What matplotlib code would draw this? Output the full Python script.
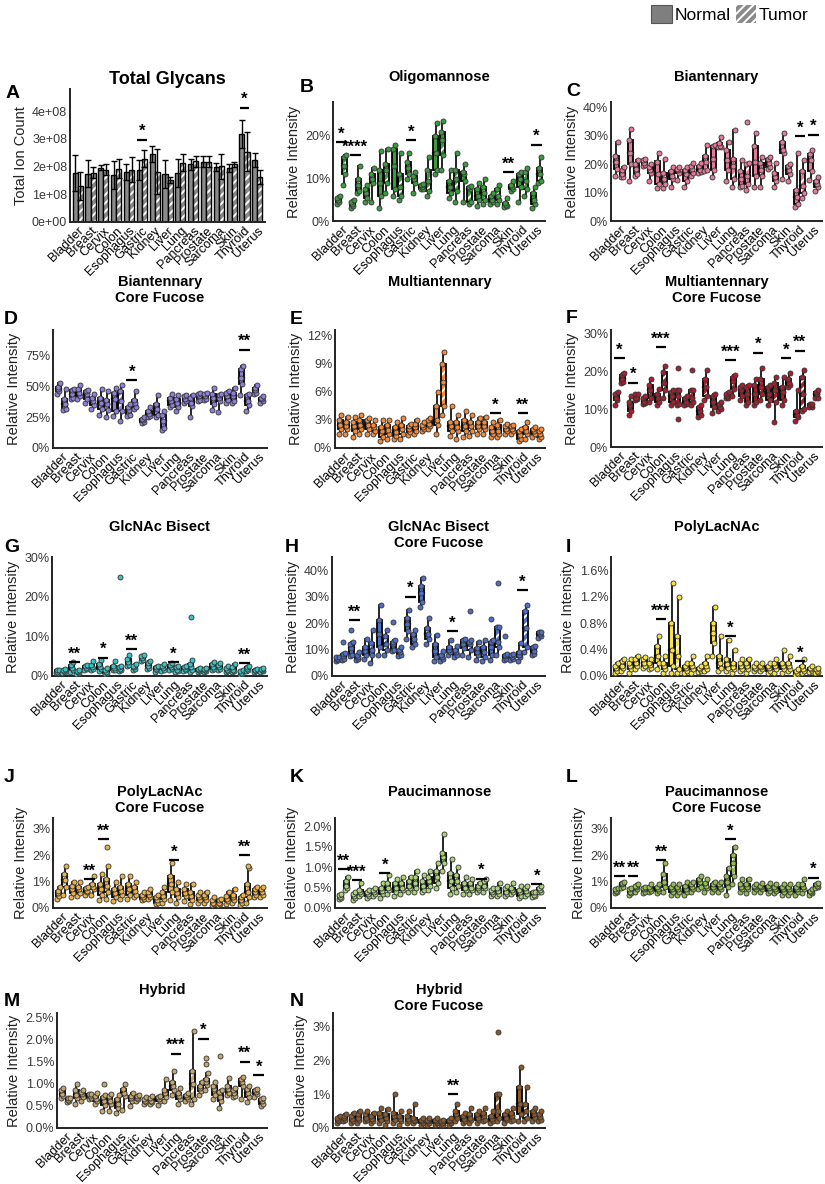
import matplotlib
matplotlib.use('Agg')
import matplotlib.pyplot as plt
from matplotlib.patches import Rectangle, Patch

plt.rcParams['font.family'] = ['Liberation Sans', 'DejaVu Sans']
plt.rcParams['hatch.linewidth'] = 1.4

TISSUES = ['Bladder', 'Breast', 'Cervix', 'Colon', 'Esophagus', 'Gastric', 'Kidney',
           'Liver', 'Lung', 'Pancreas', 'Prostate', 'Sarcoma', 'Skin', 'Thyroid', 'Uterus']

# ---------------- Panel A: total ion count (x 1e8) ----------------
A_NORMAL_MEAN = [1.77, 1.75, 1.96, 1.69, 1.81, 1.87, 2.45, 1.72, 1.77, 2.08, 2.17, 1.99, 1.96, 3.17, 2.25]
A_NORMAL_SD = [0.65, 0.50, 0.10, 0.50, 0.30, 0.35, 0.30, 0.50, 0.50, 0.20, 0.20, 0.15, 0.15, 0.50, 0.25]
A_TUMOR_MEAN = [1.29, 1.77, 1.89, 1.93, 1.89, 2.29, 1.82, 1.51, 2.14, 2.20, 2.17, 2.01, 2.08, 2.54, 1.63]
A_TUMOR_SD = [0.50, 0.20, 0.20, 0.35, 0.45, 0.30, 0.80, 0.10, 0.30, 0.20, 0.20, 0.45, 0.10, 0.70, 0.25]
A_SIG = [(5, '*', 2.95), (13, '*', 4.1)]

# ---------------- Box panels: [low whisker, Q1, median, Q3, high whisker] in % ----------------
OLIGO_N = [[4, 4.5, 5, 5.5, 6], [3, 3.5, 4, 4.5, 5], [4.5, 5.5, 6.5, 7.5, 8.5], [3, 6, 9, 12, 16.5],
           [6, 7.5, 13, 17, 18], [10, 11, 12.5, 14, 16], [7.5, 7.6, 8, 8.5, 8.6], [11, 12, 16, 20, 23],
           [5.5, 6.5, 8, 9.5, 12], [4.5, 9.5, 11, 11.5, 13.5], [3.5, 5, 6, 7.5, 9], [4, 4.5, 5, 6, 6.5],
           [3.3, 3.5, 3.8, 4.2, 5.5], [4.5, 8, 10, 11, 11.5], [3, 4, 5, 6.5, 8]]
OLIGO_T = [[8.5, 11, 13, 15, 15.5], [6.5, 7, 8.5, 10, 13], [4.5, 9, 10, 11, 12.5], [6.5, 9, 12, 13.5, 17],
           [5, 6, 8, 11, 16], [6.5, 9, 10, 10.5, 11.5], [6, 7, 9.5, 12, 15], [12, 15.5, 19, 21, 23.5],
           [4.5, 7, 10, 12, 16], [4, 4.5, 7.5, 8, 8.2], [4, 5, 6.5, 8, 10], [4, 5, 6, 7.5, 8.5],
           [7, 7.5, 8, 8.5, 9.5], [6, 7.5, 9.5, 11.5, 12.5], [9, 9.5, 11, 12.5, 15]]
OLIGO_OUT = []
OLIGO_SIG = [(0, '*', 18.5), (1, '****', 15.5), (5, '*', 19), (12, '**', 11.5), (14, '*', 18)]

BIANT_N = [[16, 18.5, 21, 23, 28], [14, 20, 24, 28.5, 32.5], [19.5, 19.7, 20.5, 21.5, 22], [11.5, 13, 16.5, 21, 24],
           [12, 15, 16, 17.5, 19], [12, 14, 16.5, 18, 19], [17, 17.2, 18, 19.5, 20.5], [15.5, 18, 22, 26.5, 27],
           [14, 18, 21.5, 25, 28], [12, 12.5, 15, 17.5, 21.5], [12, 16, 21, 26.5, 31], [18.5, 19, 20.5, 22, 22.5],
           [15, 24, 25, 28, 31], [5, 6, 8.5, 11, 24], [14.5, 17.5, 21.5, 23.5, 25]]
BIANT_T = [[15.5, 15.6, 16.5, 18, 19], [16, 16.5, 18.5, 20, 21.5], [14, 17, 18, 19, 20], [11.5, 13, 15, 17, 22],
           [14.5, 17, 18, 18.5, 19], [16, 17, 18.5, 19.5, 20.5], [17.5, 18, 21, 23, 27], [26, 26.1, 26.5, 27.5, 29.5],
           [12, 15, 19.5, 22, 32], [11, 13, 16, 20, 20.5], [12, 16, 18, 20.5, 22.5], [12, 14, 15.5, 17, 20.5],
           [14, 16.5, 18, 19.5, 20], [8, 10, 12.5, 17.5, 21.5], [10.5, 12, 13, 14, 15.5]]
BIANT_OUT = [(9, 1, 35)]
BIANT_SIG = [(13, '*', 30), (14, '*', 30.5)]

BIANTCF_N = [[44, 46, 48, 50, 53], [40, 41, 44, 47, 48], [37, 40, 44, 46, 47], [27, 32, 37, 41, 48],
             [26, 30, 40, 45, 49], [26, 27, 31, 33, 36], [20, 21, 23, 24, 25], [25, 27, 32, 36, 43],
             [33, 35, 38, 41, 44], [37, 38, 40, 42, 43], [38, 39, 42, 44, 45], [31, 36, 41, 44, 49],
             [37, 39, 42, 45, 46], [43, 52, 57, 64, 67], [44, 45, 47, 49, 51]]
BIANTCF_T = [[31, 32, 36, 40, 48], [40, 42, 45, 48, 51], [32, 35, 38, 41, 44], [25, 31, 36, 39, 46],
             [22, 30, 38, 46, 51], [32, 33, 37, 39, 46], [25, 26, 28, 30, 33], [15, 16, 22, 27, 30],
             [30, 33, 37, 40, 43], [25, 34, 37, 41, 43], [39, 40, 42, 44, 45], [29, 38, 41, 43, 44],
             [37, 38, 42, 45, 49], [30, 35, 38, 43, 44], [37, 38, 40, 41, 42]]
BIANTCF_OUT = []
BIANTCF_SIG = [(5, '*', 55), (13, '**', 80)]

MULTI_N = [[1.5, 2, 2.5, 3, 3.5], [1.2, 1.8, 2.3, 2.8, 3.3], [1.5, 2, 2.5, 3, 3.2], [0.8, 1.2, 1.8, 2.2, 3],
           [1, 1.3, 1.7, 2.2, 2.8], [1.4, 1.7, 2, 2.4, 2.6], [1.8, 2, 2.2, 2.5, 2.8], [1.5, 2.5, 3, 4.5, 6],
           [1.3, 1.8, 2.3, 2.8, 4.5], [1.2, 1.8, 2.3, 3, 4], [1.5, 2, 2.4, 2.8, 3.2], [1.2, 1.5, 1.8, 2.2, 2.8],
           [1.5, 1.8, 2, 2.3, 2.6], [0.8, 1, 1.4, 1.8, 2], [1.2, 1.5, 1.8, 2, 2.2]]
MULTI_T = [[1.5, 2, 2.4, 2.8, 3.3], [1.5, 2, 2.5, 3, 3.5], [1.5, 1.8, 2.2, 2.5, 3], [1, 1.5, 1.9, 2.5, 3],
           [1, 1.5, 2, 2.5, 3.2], [1.5, 1.8, 2.2, 2.6, 3], [2, 2.3, 2.6, 3, 3.2], [3.5, 4.5, 7, 9, 10.3],
           [1, 1.8, 2.2, 2.8, 3.5], [1.3, 1.8, 2.4, 2.8, 3.5], [1.5, 2, 2.4, 2.8, 3.3], [1.2, 1.5, 1.8, 2.5, 3],
           [1.5, 1.8, 2, 2.3, 2.5], [1, 1.5, 1.8, 2.2, 2.8], [1, 1.2, 1.5, 1.8, 2]]
MULTI_OUT = []
MULTI_SIG = [(11, '*', 3.7), (13, '**', 3.7)]

MULTICF_N = [[11, 12.5, 13, 14, 14.5], [8.5, 9.5, 11, 12, 13.5], [11.5, 11.6, 12, 13, 13.5], [11, 12, 13, 14, 15.5],
             [11, 12, 13.5, 14.5, 15], [11, 11.5, 12, 13, 13.5], [8, 8.5, 9.5, 10.5, 11], [9, 10.5, 12, 13.5, 14],
             [13, 13.1, 13.5, 14, 14.5], [12.5, 13.5, 15, 16, 16.5], [11, 12, 14, 16.5, 18], [11, 12.5, 14, 16, 16.5],
             [11, 12.5, 14.5, 16, 18.5], [7, 8, 8.5, 9.5, 15], [10.5, 10.6, 11, 11.4, 11.5]]
MULTICF_T = [[17, 17.1, 18, 19, 19.5], [12.5, 12.6, 13, 14, 14.1], [12, 13, 15, 16.5, 18], [13, 15, 17, 20, 21.5],
             [11, 11.5, 13.5, 15, 15.2], [11, 12, 13, 15, 15.1], [12.5, 13.5, 16, 18, 20.5], [9.5, 10, 10.5, 11.5, 12],
             [13.5, 15.5, 17.5, 18.5, 19], [11, 12, 14, 16, 16.5], [12.5, 14, 16, 18, 21], [6.5, 12, 15, 17, 18.5],
             [16, 16.5, 17, 18, 19.5], [9.5, 10, 14, 18.5, 20.5], [13, 13.1, 14, 14.5, 15]]
MULTICF_OUT = [(4, 1, 7.5), (4, 1, 21), (5, 1, 20.5)]
MULTICF_SIG = [(0, '*', 23.5), (1, '*', 17), (3, '***', 26.5), (8, '***', 23), (10, '*', 25), (12, '*', 23.5), (13, '**', 25.5)]

BISECT_N = [[0.7, 0.8, 1.1, 1.4, 1.5], [1, 1.5, 2, 2.8, 3.5], [1.5, 1.8, 2.1, 2.5, 2.8], [1.2, 1.8, 2.3, 3, 4],
            [1.5, 1.6, 2, 2.5, 3.8], [2.5, 2.8, 3.5, 4.2, 5.3], [3.8, 4, 4.6, 5, 5.2], [1.1, 1.4, 1.8, 2.2, 2.5],
            [1.5, 1.8, 2.2, 2.8, 3.2], [1.2, 1.5, 1.8, 2.2, 2.5], [1, 1.2, 1.5, 1.8, 2], [1.5, 1.8, 2.3, 3, 3.5],
            [1, 1.2, 1.5, 2, 2.5], [0.3, 0.5, 0.8, 1.2, 1.5], [1.1, 1.2, 1.4, 1.6, 1.8]]
BISECT_T = [[0.8, 1, 1.3, 1.5, 1.7], [0.6, 0.8, 1.1, 1.3, 1.5], [1.5, 1.8, 2.3, 2.8, 3.8], [0.6, 0.8, 1.1, 1.5, 2],
            [1.2, 1.5, 1.8, 2.2, 2.5], [1.6, 1.8, 2.2, 2.6, 3], [1.8, 2, 2.5, 3.2, 3.8], [1.2, 1.5, 2, 2.5, 3],
            [1, 1.2, 1.6, 2.2, 2.6], [1, 1.5, 2.2, 3, 4], [1, 1.2, 1.5, 1.8, 2], [1.5, 1.8, 2.2, 2.8, 3.2],
            [1, 1.2, 1.5, 2.2, 3], [1.2, 1.5, 1.8, 2.2, 2.5], [1.1, 1.3, 1.5, 1.8, 2]]
BISECT_OUT = [(4, 1, 25), (9, 1, 15)]
BISECT_SIG = [(1, '**', 3.5), (3, '*', 4.6), (5, '**', 6.8), (8, '*', 3.5), (13, '**', 3.2)]

BISECTCF_N = [[5.8, 6, 6.5, 7, 7.1], [7.5, 8, 10.5, 12, 13], [6.5, 8, 9.5, 11, 14], [8, 11, 16, 21, 27],
              [9.5, 10, 12, 13, 13.5], [14, 17, 19.5, 22, 25], [26, 28, 31.5, 34, 37], [5.5, 7, 9.5, 12, 15.5],
              [8, 9, 10, 11, 13.5], [8, 10.5, 12, 13.5, 14], [6, 8, 9, 10.5, 13], [6, 8, 11, 13, 13.5],
              [6, 6.5, 7.5, 8, 8.2], [5.5, 7, 8, 9, 12.5], [8, 8.5, 9.5, 11, 11.5]]
BISECTCF_T = [[6, 6.5, 7.5, 8.5, 8.7], [6, 6.5, 7, 8, 9], [5, 8, 10, 12.5, 17.5], [8, 10, 12, 15, 17.5],
              [7.5, 8, 9, 10, 11], [11, 12, 14, 16, 17.5], [12, 14, 16, 18, 22], [5.5, 6.5, 7, 8, 9.5],
              [7, 8, 9, 10, 11.5], [7, 10, 12, 13, 13.5], [5.5, 7, 9, 11, 13.5], [8, 11, 13, 18.5, 18.7],
              [6, 6.5, 7, 8, 8.5], [9, 11, 18, 24.5, 27], [14.5, 15, 15.8, 16.5, 16.7]]
BISECTCF_OUT = [(0, 1, 13), (1, 0, 17.5), (4, 0, 20.5), (9, 1, 24.5), (11, 0, 21.5), (11, 1, 35), (12, 0, 15)]
BISECTCF_SIG = [(1, '**', 21), (5, '*', 30), (8, '*', 17), (13, '*', 32.5)]

POLY_N = [[0.05, 0.08, 0.12, 0.15, 0.2], [0.05, 0.1, 0.15, 0.2, 0.25], [0.12, 0.15, 0.2, 0.25, 0.28], [0.1, 0.2, 0.3, 0.45, 0.6],
          [0.05, 0.15, 0.4, 0.8, 1.4], [0.05, 0.08, 0.12, 0.15, 0.2], [0.06, 0.08, 0.1, 0.12, 0.15], [0.3, 0.5, 0.65, 0.8, 1.05],
          [0.08, 0.12, 0.18, 0.25, 0.55], [0.08, 0.1, 0.15, 0.2, 0.25], [0.08, 0.1, 0.12, 0.15, 0.2], [0.05, 0.08, 0.12, 0.15, 0.2],
          [0.05, 0.1, 0.15, 0.2, 0.4], [0.02, 0.03, 0.05, 0.08, 0.1], [0.06, 0.08, 0.1, 0.12, 0.15]]
POLY_T = [[0.08, 0.12, 0.15, 0.22, 0.25], [0.1, 0.15, 0.2, 0.25, 0.3], [0.1, 0.12, 0.16, 0.2, 0.25], [0.05, 0.1, 0.15, 0.2, 0.3],
          [0.05, 0.1, 0.3, 0.6, 1.2], [0.05, 0.1, 0.15, 0.2, 0.3], [0.08, 0.1, 0.15, 0.2, 0.3], [0.08, 0.12, 0.2, 0.3, 0.6],
          [0.05, 0.1, 0.14, 0.2, 0.4], [0.05, 0.1, 0.15, 0.2, 0.25], [0.08, 0.1, 0.13, 0.15, 0.2], [0.05, 0.1, 0.15, 0.2, 0.25],
          [0.08, 0.1, 0.15, 0.2, 0.3], [0.05, 0.08, 0.1, 0.15, 0.25], [0.05, 0.06, 0.08, 0.1, 0.12]]
POLY_OUT = []
POLY_SIG = [(3, '***', 0.86), (8, '*', 0.6), (13, '*', 0.22)]

POLYCF_N = [[0.35, 0.45, 0.55, 0.65, 0.8], [0.4, 0.55, 0.7, 0.85, 1], [0.5, 0.6, 0.65, 0.75, 0.8], [0.3, 0.5, 0.7, 0.9, 1.3],
            [0.25, 0.4, 0.55, 0.7, 1], [0.35, 0.5, 0.7, 0.9, 1.2], [0.3, 0.35, 0.4, 0.5, 0.6], [0.15, 0.2, 0.3, 0.4, 0.5],
            [0.3, 0.6, 0.9, 1.2, 1.7], [0.25, 0.45, 0.55, 0.7, 0.9], [0.2, 0.3, 0.4, 0.5, 0.6], [0.1, 0.15, 0.2, 0.3, 0.4],
            [0.15, 0.25, 0.35, 0.45, 0.6], [0.1, 0.2, 0.3, 0.4, 0.5], [0.4, 0.5, 0.6, 0.7, 0.8]]
POLYCF_T = [[0.5, 0.8, 1.05, 1.3, 1.6], [0.45, 0.55, 0.7, 0.8, 1], [0.5, 0.7, 0.8, 0.9, 1.2], [0.35, 0.6, 0.85, 1.1, 1.6],
            [0.35, 0.5, 0.65, 0.8, 1.2], [0.4, 0.5, 0.65, 0.8, 1], [0.35, 0.4, 0.5, 0.6, 0.7], [0.2, 0.35, 0.45, 0.6, 0.8],
            [0.2, 0.4, 0.55, 0.7, 1], [0.15, 0.3, 0.45, 0.6, 0.9], [0.2, 0.3, 0.4, 0.5, 0.6], [0.1, 0.15, 0.2, 0.3, 0.35],
            [0.2, 0.3, 0.4, 0.5, 0.7], [0.2, 0.4, 0.6, 0.9, 1.5], [0.4, 0.5, 0.6, 0.7, 0.8]]
POLYCF_OUT = [(3, 1, 2.3), (13, 1, 1.6)]
POLYCF_SIG = [(2, '**', 1.1), (3, '**', 2.6), (8, '*', 1.8), (13, '**', 2.0)]

PAUCI_N = [[0.22, 0.25, 0.28, 0.32, 0.35], [0.2, 0.25, 0.3, 0.35, 0.4], [0.25, 0.3, 0.35, 0.4, 0.45], [0.25, 0.35, 0.42, 0.5, 0.6],
           [0.3, 0.4, 0.5, 0.6, 0.7], [0.4, 0.5, 0.55, 0.65, 0.75], [0.4, 0.45, 0.55, 0.65, 0.8], [0.5, 0.6, 0.75, 0.9, 1.1],
           [0.35, 0.5, 0.65, 0.85, 1.2], [0.35, 0.45, 0.5, 0.6, 0.75], [0.4, 0.45, 0.5, 0.55, 0.6], [0.3, 0.35, 0.4, 0.45, 0.5],
           [0.3, 0.35, 0.4, 0.5, 0.55], [0.25, 0.3, 0.38, 0.45, 0.55], [0.28, 0.3, 0.33, 0.38, 0.4]]
PAUCI_T = [[0.45, 0.5, 0.55, 0.65, 0.75], [0.3, 0.35, 0.4, 0.45, 0.6], [0.3, 0.35, 0.4, 0.45, 0.5], [0.35, 0.45, 0.5, 0.6, 0.8],
           [0.35, 0.45, 0.5, 0.6, 0.75], [0.4, 0.5, 0.6, 0.75, 0.9], [0.45, 0.55, 0.65, 0.75, 0.9], [0.9, 1.1, 1.25, 1.35, 1.8],
           [0.4, 0.55, 0.65, 0.8, 1], [0.35, 0.45, 0.5, 0.6, 0.7], [0.4, 0.5, 0.55, 0.65, 0.7], [0.3, 0.35, 0.42, 0.5, 0.6],
           [0.35, 0.4, 0.45, 0.5, 0.6], [0.3, 0.35, 0.42, 0.5, 0.55], [0.38, 0.4, 0.45, 0.5, 0.55]]
PAUCI_OUT = []
PAUCI_SIG = [(0, '**', 0.95), (1, '***', 0.68), (3, '*', 0.85), (10, '*', 0.72), (14, '*', 0.58)]

PAUCICF_N = [[0.55, 0.6, 0.65, 0.7, 0.75], [0.5, 0.55, 0.6, 0.7, 0.75], [0.55, 0.6, 0.7, 0.75, 0.8], [0.55, 0.65, 0.7, 0.8, 0.9],
             [0.5, 0.6, 0.7, 0.8, 0.9], [0.5, 0.6, 0.7, 0.85, 1], [0.7, 0.8, 1, 1.1, 1.2], [0.6, 0.7, 0.8, 0.9, 1],
             [0.5, 0.8, 1, 1.2, 1.5], [0.6, 0.7, 0.8, 0.9, 1.1], [0.6, 0.7, 0.78, 0.85, 0.9], [0.55, 0.65, 0.75, 0.85, 0.95],
             [0.5, 0.6, 0.7, 0.8, 0.9], [0.5, 0.6, 0.7, 0.8, 0.9], [0.5, 0.55, 0.6, 0.65, 0.7]]
PAUCICF_T = [[0.75, 0.8, 0.9, 0.95, 1], [0.6, 0.7, 0.8, 0.85, 0.9], [0.6, 0.65, 0.7, 0.8, 0.9], [0.6, 0.8, 1, 1.3, 1.7],
             [0.5, 0.6, 0.7, 0.8, 0.9], [0.6, 0.7, 0.8, 0.9, 1], [0.6, 0.75, 0.85, 0.95, 1.1], [0.6, 0.7, 0.8, 0.9, 1],
             [0.9, 1.2, 1.7, 2, 2.3], [0.55, 0.7, 0.8, 0.9, 1.1], [0.6, 0.7, 0.78, 0.85, 0.95], [0.55, 0.65, 0.7, 0.8, 0.9],
             [0.5, 0.6, 0.7, 0.8, 0.9], [0.55, 0.7, 0.8, 0.9, 1.1], [0.75, 0.8, 0.85, 0.9, 0.95]]
PAUCICF_OUT = []
PAUCICF_SIG = [(0, '**', 1.2), (1, '**', 1.2), (3, '**', 1.8), (8, '*', 2.6), (14, '*', 1.15)]

HYBRID_N = [[0.68, 0.72, 0.78, 0.85, 0.9], [0.55, 0.68, 0.75, 0.85, 1], [0.65, 0.68, 0.72, 0.77, 0.78], [0.38, 0.52, 0.62, 0.7, 0.75],
            [0.33, 0.45, 0.55, 0.65, 0.75], [0.5, 0.62, 0.68, 0.72, 0.8], [0.55, 0.58, 0.62, 0.66, 0.7], [0.52, 0.62, 0.66, 0.7, 0.72],
            [0.75, 0.85, 0.95, 1.05, 1.28], [0.6, 0.65, 0.7, 0.75, 0.8], [0.75, 0.83, 0.9, 0.95, 1.05], [0.65, 0.75, 0.88, 0.95, 1.05],
            [0.75, 0.8, 0.88, 0.95, 1.12], [0.65, 0.95, 1.03, 1.1, 1.15], [0.7, 0.78, 0.82, 0.87, 0.88]]
HYBRID_T = [[0.58, 0.6, 0.63, 0.67, 0.68], [0.6, 0.7, 0.78, 0.82, 0.85], [0.55, 0.6, 0.65, 0.72, 0.8], [0.38, 0.55, 0.6, 0.72, 0.78],
            [0.4, 0.72, 0.8, 0.88, 1.0], [0.6, 0.65, 0.68, 0.72, 0.75], [0.55, 0.58, 0.62, 0.68, 0.72], [0.6, 0.7, 0.8, 0.85, 1.1],
            [0.55, 0.65, 0.72, 0.8, 0.9], [0.55, 0.65, 1.0, 1.3, 2.2], [0.85, 0.98, 1.05, 1.1, 1.25], [0.45, 0.6, 0.7, 0.82, 0.85],
            [0.7, 0.72, 0.8, 0.85, 0.9], [0.58, 0.7, 0.8, 0.88, 0.95], [0.5, 0.55, 0.6, 0.65, 0.68]]
HYBRID_OUT = [(3, 0, 1.0), (10, 1, 1.45), (10, 1, 1.58), (11, 1, 1.62)]
HYBRID_SIG = [(8, '***', 1.68), (10, '*', 2.02), (13, '**', 1.5), (14, '*', 1.2)]

HYBRIDCF_N = [[0.15, 0.2, 0.25, 0.3, 0.35], [0.15, 0.2, 0.28, 0.35, 0.45], [0.2, 0.25, 0.3, 0.4, 0.5], [0.15, 0.25, 0.35, 0.45, 0.6],
              [0.15, 0.25, 0.35, 0.45, 1.0], [0.15, 0.2, 0.28, 0.35, 0.5], [0.1, 0.15, 0.2, 0.25, 0.3], [0.1, 0.15, 0.2, 0.25, 0.3],
              [0.1, 0.15, 0.2, 0.25, 0.3], [0.15, 0.2, 0.28, 0.35, 0.45], [0.15, 0.25, 0.3, 0.4, 0.5], [0.15, 0.2, 0.28, 0.35, 0.5],
              [0.15, 0.25, 0.3, 0.4, 0.5], [0.2, 0.4, 0.7, 1.2, 1.8], [0.2, 0.3, 0.4, 0.5, 0.6]]
HYBRIDCF_T = [[0.2, 0.25, 0.3, 0.35, 0.4], [0.15, 0.25, 0.3, 0.4, 0.5], [0.15, 0.2, 0.28, 0.35, 0.45], [0.1, 0.2, 0.3, 0.4, 0.55],
              [0.1, 0.2, 0.28, 0.35, 0.5], [0.15, 0.2, 0.25, 0.3, 0.7], [0.1, 0.15, 0.2, 0.25, 0.3], [0.08, 0.1, 0.15, 0.2, 0.25],
              [0.2, 0.3, 0.4, 0.5, 0.7], [0.15, 0.25, 0.3, 0.4, 0.6], [0.2, 0.25, 0.35, 0.45, 0.6], [0.2, 0.3, 0.5, 1.0, 1.0],
              [0.2, 0.25, 0.35, 0.45, 0.6], [0.2, 0.3, 0.5, 0.7, 1.2], [0.2, 0.25, 0.32, 0.4, 0.5]]
HYBRIDCF_OUT = [(11, 1, 2.85)]
HYBRIDCF_SIG = [(8, '**', 1.0)]

W_PX, H_PX = 825, 1184


def rect(l, t, r, b):
    return [l / W_PX, 1 - b / H_PX, (r - l) / W_PX, (b - t) / H_PX]


def style_axes(ax):
    for s in ['top', 'right']:
        ax.spines[s].set_visible(False)
    for s in ['left', 'bottom']:
        ax.spines[s].set_linewidth(1.4)
        ax.spines[s].set_color('#222222')
    ax.tick_params(axis='both', length=0, pad=2)
    ax.tick_params(axis='y', labelsize=9, labelcolor='#3a3a3a')
    ax.set_xticks(range(len(TISSUES)))
    ax.set_xticklabels(TISSUES, rotation=45, ha='right', rotation_mode='anchor', fontsize=9.2)
    ax.set_xlim(-0.6, len(TISSUES) - 0.4)


def sig_marks(ax, sig, dy):
    for i, label, y in sig:
        ax.plot([i - 0.38, i + 0.38], [y, y], color='black', lw=1.6, solid_capstyle='butt', zorder=5)
        ax.text(i, y + dy, label, ha='center', va='bottom', fontsize=12, fontweight='bold', zorder=5)


def draw_boxes(ax, normal, tumor, outliers, color):
    off, w = 0.22, 0.36
    jit = [-0.09, 0.07, 0.0, -0.06, 0.09]
    for g, stats in enumerate([normal, tumor]):
        for i, (lo, q1, med, q3, hi) in enumerate(stats):
            x = i - off if g == 0 else i + off
            ax.plot([x, x], [lo, hi], color='black', lw=1.2, zorder=2)
            if g == 0:
                ax.add_patch(Rectangle((x - w / 2, q1), w, q3 - q1, facecolor=color, edgecolor='black',
                                       lw=1.3, zorder=3))
            else:
                ax.add_patch(Rectangle((x - w / 2, q1), w, q3 - q1, facecolor=color, edgecolor='white',
                                       hatch='////', lw=0, zorder=3))
                ax.add_patch(Rectangle((x - w / 2, q1), w, q3 - q1, fill=False, edgecolor='black',
                                       lw=1.3, zorder=3.1))
            ax.plot([x - w / 2, x + w / 2], [med, med], color='black', lw=1.6, zorder=3.2)
            vals = [lo, q1, med, q3, hi]
            ax.scatter([x + j for j in jit], vals, s=13, facecolor=color, edgecolor='#333333',
                       lw=0.6, zorder=4)
    for i, g, v in outliers:
        x = i - off if g == 0 else i + off
        ax.scatter([x], [v], s=13, facecolor=color, edgecolor='#333333', lw=0.6, zorder=4)


def panel_title(box, text, y_first, size=10.5):
    l, t, r, b = box
    fig.text((l + r) / 2 / W_PX, 1 - (y_first - size * 0.72) / H_PX, text, ha='center', va='top',
             fontsize=size, fontweight='bold', linespacing=1.15)


fig = plt.figure(figsize=(W_PX / 100, H_PX / 100), dpi=100)

# ---------------- Panel A ----------------
A_BOX = (70, 89, 265, 222)
axA = fig.add_axes(rect(*A_BOX))
xs = list(range(len(TISSUES)))
xn = [x - 0.2 for x in xs]
xt = [x + 0.2 for x in xs]
axA.bar(xn, A_NORMAL_MEAN, width=0.4, color='#8a8a8a', edgecolor='black', lw=1.0, zorder=2)
axA.bar(xt, A_TUMOR_MEAN, width=0.4, color='#8a8a8a', edgecolor='white', hatch='////', lw=0, zorder=2)
axA.bar(xt, A_TUMOR_MEAN, width=0.4, fill=False, edgecolor='black', lw=1.0, zorder=2.1)
axA.errorbar(xn, A_NORMAL_MEAN, yerr=A_NORMAL_SD, fmt='none', ecolor='black', elinewidth=1.0, capsize=2, zorder=3)
axA.errorbar(xt, A_TUMOR_MEAN, yerr=A_TUMOR_SD, fmt='none', ecolor='black', elinewidth=1.0, capsize=2, zorder=3)
style_axes(axA)
axA.set_ylim(0, 4.8)
axA.set_yticks([0, 1, 2, 3, 4])
axA.set_yticklabels(['0e+00', '1e+08', '2e+08', '3e+08', '4e+08'])
axA.set_ylabel('Total Ion Count', fontsize=10.5, color='#222222', labelpad=3)
panel_title(A_BOX, 'Total Glycans', 80, size=13)
sig_marks(axA, A_SIG, 0.05)

# ---------------- Box panels ----------------
PANELS = [
    ('Oligomannose', OLIGO_N, OLIGO_T, OLIGO_OUT, OLIGO_SIG, '#3d9a40', (333, 102, 545, 221), 28, [0, 10, 20], 0, 78),
    ('Biantennary', BIANT_N, BIANT_T, BIANT_OUT, BIANT_SIG, '#e27a98', (611, 102, 822, 221), 42, [0, 10, 20, 30, 40], 0, 78),
    ('Biantennary\nCore Fucose', BIANTCF_N, BIANTCF_T, BIANTCF_OUT, BIANTCF_SIG, '#8d80d6', (53, 330, 267, 448), 96, [0, 25, 50, 75], 0, 283),
    ('Multiantennary', MULTI_N, MULTI_T, MULTI_OUT, MULTI_SIG, '#f28a3a', (335, 330, 545, 448), 12.6, [0, 3, 6, 9, 12], 0, 283),
    ('Multiantennary\nCore Fucose', MULTICF_N, MULTICF_T, MULTICF_OUT, MULTICF_SIG, '#a81f2e', (611, 330, 822, 447), 31, [0, 10, 20, 30], 0, 283),
    ('GlcNAc Bisect', BISECT_N, BISECT_T, BISECT_OUT, BISECT_SIG, '#3cc2c2', (52, 557, 267, 676), 30, [0, 10, 20, 30], 0, 528),
    ('GlcNAc Bisect\nCore Fucose', BISECTCF_N, BISECTCF_T, BISECTCF_OUT, BISECTCF_SIG, '#4f6ec4', (332, 557, 545, 676), 45, [0, 10, 20, 30, 40], 0, 528),
    ('PolyLacNAc', POLY_N, POLY_T, POLY_OUT, POLY_SIG, '#f5e24c', (611, 557, 822, 676), 1.8, [0, 0.4, 0.8, 1.2, 1.6], 1, 528),
    ('PolyLacNAc\nCore Fucose', POLYCF_N, POLYCF_T, POLYCF_OUT, POLYCF_SIG, '#e9b24f', (53, 818, 267, 908), 3.4, [0, 1, 2, 3], 0, 793),
    ('Paucimannose', PAUCI_N, PAUCI_T, PAUCI_OUT, PAUCI_SIG, '#acd27e', (335, 818, 545, 908), 2.2, [0, 0.5, 1.0, 1.5, 2.0], 1, 793),
    ('Paucimannose\nCore Fucose', PAUCICF_N, PAUCICF_T, PAUCICF_OUT, PAUCICF_SIG, '#93bc58', (611, 818, 822, 908), 3.4, [0, 1, 2, 3], 0, 793),
    ('Hybrid', HYBRID_N, HYBRID_T, HYBRID_OUT, HYBRID_SIG, '#c4a670', (57, 1013, 267, 1128), 2.6, [0, 0.5, 1.0, 1.5, 2.0, 2.5], 1, 991),
    ('Hybrid\nCore Fucose', HYBRIDCF_N, HYBRIDCF_T, HYBRIDCF_OUT, HYBRIDCF_SIG, '#8b5a2c', (333, 1013, 545, 1128), 3.4, [0, 1, 2, 3], 0, 991),
]

LETTER_POS = {'A': (6, 93), 'B': (300, 87), 'C': (566, 92), 'D': (4, 320), 'E': (290, 320), 'F': (566, 318),
              'G': (4, 548), 'H': (285, 548), 'I': (566, 548), 'J': (4, 778), 'K': (290, 778), 'L': (566, 778),
              'M': (4, 1002), 'N': (290, 1002)}

for title, nrm, tmr, outl, sig, color, box, ytop, ticks, dec, ytitle in PANELS:
    ax = fig.add_axes(rect(*box))
    draw_boxes(ax, nrm, tmr, outl, color)
    style_axes(ax)
    ax.set_ylim(0, ytop)
    ax.set_yticks(ticks)
    ax.set_yticklabels([f'{t:.{dec}f}%' for t in ticks])
    ax.set_ylabel('Relative Intensity', fontsize=10.5, color='#222222', labelpad=3)
    panel_title(box, title, ytitle)
    sig_marks(ax, sig, ytop * 0.005)

for letter, (lx, ly) in LETTER_POS.items():
    fig.text(lx / W_PX, 1 - ly / H_PX, letter, fontsize=14, fontweight='bold', ha='left', va='center')

handles = [Patch(facecolor='#7f7f7f', edgecolor='#555555', lw=0.8, label='Normal'),
           Patch(facecolor='#8a8a8a', edgecolor='white', hatch='////', lw=0, label='Tumor')]
fig.legend(handles=handles, loc='upper right', bbox_to_anchor=(0.995, 1.006), ncol=2, frameon=False,
           fontsize=12.5, handlelength=1.2, handleheight=1.2, handletextpad=0.15, columnspacing=0.3,
           borderpad=0.2)

fig.savefig('out.png', dpi=100)
